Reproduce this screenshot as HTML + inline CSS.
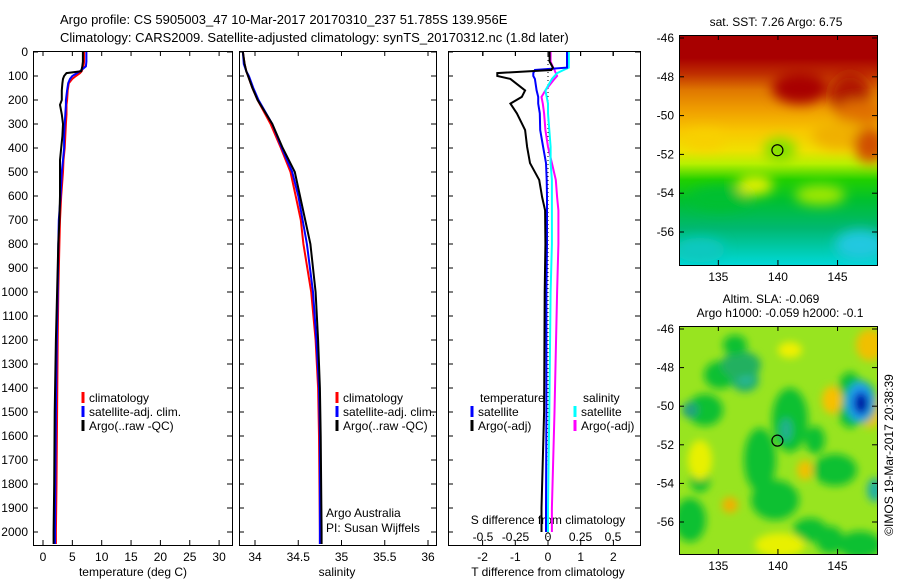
<!DOCTYPE html>
<html><head><meta charset="utf-8"><style>
body{margin:0;background:#fff;}
svg{display:block;font-family:"Liberation Sans",sans-serif;}
</style></head><body>
<svg id="c" width="900" height="580" viewBox="0 0 900 580">
<defs>
<filter id="bl" x="-50%" y="-50%" width="200%" height="200%"><feGaussianBlur stdDeviation="6"/></filter>
<filter id="bl2" x="-50%" y="-50%" width="200%" height="200%"><feGaussianBlur stdDeviation="4"/></filter>
<clipPath id="cm1"><rect x="679" y="35" width="198" height="230"/></clipPath>
<clipPath id="cm2"><rect x="679" y="326" width="198" height="228"/></clipPath>
<linearGradient id="sst" x1="0" y1="0" x2="0" y2="1">
<stop offset="0" stop-color="#a80000"/><stop offset="0.1" stop-color="#a80000"/>
<stop offset="0.17" stop-color="#c03000"/><stop offset="0.24" stop-color="#e07800"/>
<stop offset="0.33" stop-color="#f0a000"/><stop offset="0.42" stop-color="#f8c800"/>
<stop offset="0.5" stop-color="#f0e000"/><stop offset="0.56" stop-color="#b8f000"/>
<stop offset="0.63" stop-color="#20d000"/><stop offset="0.72" stop-color="#00c030"/>
<stop offset="0.84" stop-color="#00b870"/>
<stop offset="1" stop-color="#00d8d8"/></linearGradient>
</defs>
<g id="texts" font-size="13">
<text x="60" y="24">Argo profile: CS 5905003_47 10-Mar-2017 20170310_237 51.785S 139.956E</text>
<text x="60" y="42">Climatology: CARS2009. Satellite-adjusted climatology: synTS_20170312.nc (1.8d later)</text>
</g>
<g id="maps"></g>
<g id="plots"></g>
</svg>
<script>
// ---- data ----
const tDepth=[0,40,60,80,88,100,112,130,160,200,220,260,300,350,400,450,500,600,700,800,1000,1200,1500,1800,2000,2050];
const tArgo=[6.8,6.8,6.7,6.5,4.0,3.6,3.4,3.3,3.2,3.2,2.9,3.2,3.4,3.3,3.1,2.9,2.9,2.9,2.8,2.6,2.4,2.2,2.0,1.9,1.8,1.8];
const tClim=[7.0,7.0,6.9,6.6,6.3,5.6,5.0,4.4,4.2,4.1,4.0,4.0,3.9,3.8,3.7,3.5,3.4,3.1,2.9,2.8,2.6,2.5,2.4,2.3,2.2,2.2];
const tSat=[7.4,7.4,7.3,6.3,5.8,5.0,4.6,4.3,4.1,3.9,3.9,3.8,3.7,3.6,3.6,3.4,3.2,3.0,2.7,2.6,2.5,2.35,2.2,2.1,2.05,2.05];
const sDepth=[0,50,80,100,150,200,300,400,500,600,700,800,1000,1200,1400,1600,2000,2050];
const sArgo=[33.86,33.88,33.9,33.92,33.97,34.03,34.2,34.32,34.46,34.52,34.58,34.64,34.7,34.73,34.75,34.76,34.77,34.77];
const sClim=[33.86,33.88,33.9,33.92,33.97,34.03,34.18,34.3,34.41,34.47,34.53,34.56,34.65,34.7,34.73,34.74,34.75,34.75];
const sSat=[33.86,33.87,33.9,33.93,33.98,34.04,34.2,34.31,34.43,34.5,34.55,34.6,34.67,34.71,34.74,34.75,34.75,34.75];
const dDepth=[0,40,65,75,88,100,112,160,187,215,256,325,395,463,533,604,660,800,1000,1500,1900,2000];
const dTArgo=[0.05,0.05,0.15,0.1,-1.55,-1.55,-1.15,-0.7,-0.8,-1.15,-0.95,-0.7,-0.64,-0.55,-0.27,-0.18,-0.09,-0.08,-0.1,-0.12,-0.2,-0.2];
const dTSat=[0.58,0.58,0.58,-0.4,-0.45,-0.45,-0.4,-0.35,-0.3,-0.3,-0.25,-0.24,-0.15,-0.06,-0.04,-0.03,-0.03,-0.03,-0.05,-0.05,-0.06,-0.06];
const dSSat=[0.16,0.16,0.16,0.12,0.07,0.05,0.03,-0.02,-0.01,0,0,0.01,0.02,0.02,0.03,0.03,0.03,0.03,0.02,0.01,0,0];
const dSArgo=[0.02,0.02,0.04,0.05,0.06,0.07,0.05,-0.02,-0.05,-0.04,-0.03,-0.02,0,0.03,0.06,0.07,0.08,0.08,0.07,0.05,0.03,0.03];
const depthTicks=[0,100,200,300,400,500,600,700,800,900,1000,1100,1200,1300,1400,1500,1600,1700,1800,1900,2000];
const tTicks=[0,5,10,15,20,25,30];
const sTicks=[34,34.5,35,35.5,36];
const sTickLbl=["34","34.5","35","35.5","36"];
const dTTicks=[-2,-1,0,1,2];
const dSTicks=[-0.5,-0.25,0,0.25,0.5];
const dSTickLbl=["-0.5","-0.25","0","0.25","0.5"];
const latTicks=[-46,-48,-50,-52,-54,-56];
const lonTicks=[135,140,145];
const argoLon=139.956, argoLat=-51.785;

const NS='http://www.w3.org/2000/svg';
const plots=document.getElementById('plots');
function mk(tag,at,par){const e=document.createElementNS(NS,tag);for(const k in at)e.setAttribute(k,at[k]);(par||plots).appendChild(e);return e;}
const Y=d=>52+d*0.24;
const P1={x0:33,x1:232}, P2={x0:239,x1:436}, P3={x0:448,x1:640};
const xT=v=>43+v*5.87, xS=v=>255+(v-34)*86.5, xDT=v=>548+v*32.7, xDS=v=>548+v*130;
function frame(P,name){
  const r=mk('rect',{x:P.x0+0.5,y:51.5,width:P.x1-P.x0,height:494,fill:'none',stroke:'#000','stroke-width':1});
  
  
  depthTicks.forEach(d=>{
    mk('line',{x1:P.x0,x2:P.x0+5,y1:Y(d),y2:Y(d),stroke:'#000'});
    mk('line',{x1:P.x1-5,x2:P.x1,y1:Y(d),y2:Y(d),stroke:'#000'});
  });
}
function xticks(P,ticks,fx,labels,name,ly){
  ticks.forEach((t,i)=>{
    const x=fx(t);
    mk('line',{x1:x,x2:x,y1:545,y2:540,stroke:'#000'});
    mk('line',{x1:x,x2:x,y1:51,y2:56,stroke:'#000'});
    const tx=mk('text',{x:x,y:ly||561,'text-anchor':'middle','font-size':12});
    tx.textContent=labels?labels[i]:String(t);
    
    
  });
}
function line(ds,vs,fx,col,w,name){
  let d='';ds.forEach((dd,i)=>{d+=(i?'L':'M')+fx(vs[i]).toFixed(1)+' '+Y(dd).toFixed(1);});
  const p=mk('path',{d:d,fill:'none',stroke:col,'stroke-width':w});
  
  
}
function txt(x,y,s,name,opt){const t=mk('text',Object.assign({x:x,y:y,'font-size':12},opt||{}));t.textContent=s;
  
  return t;}
frame(P1,'temperature-panel');frame(P2,'salinity-panel');frame(P3,'difference-panel');
depthTicks.forEach(d=>{txt(28,Y(d)+4,String(d),'depth-tick-label',{'text-anchor':'end'});});
xticks(P1,tTicks,xT,null,'temperature-tick-label');
xticks(P2,sTicks,xS,sTickLbl,'salinity-tick-label');
xticks(P3,dTTicks,xDT,null,'t-diff-tick-label');
dSTicks.forEach((t,i)=>{const x=xDS(t);mk('line',{x1:x,x2:x,y1:51,y2:56,stroke:'#000'});
  txt(x,541,dSTickLbl[i],'s-diff-tick-label',{'text-anchor':'middle'});});
txt(548,524,'S difference from climatology','s-diff-axis-title',{'text-anchor':'middle'});
txt(133,576,'temperature (deg C)','temperature-axis-title',{'text-anchor':'middle'});
txt(337,576,'salinity','salinity-axis-title',{'text-anchor':'middle'});
txt(548,576,'T difference from climatology','t-diff-axis-title',{'text-anchor':'middle'});
mk('line',{x1:548,x2:548,y1:52,y2:545,stroke:'#000','stroke-dasharray':'1,3'});
line(tDepth,tClim,xT,'#f00',2,'temperature-climatology-line');
line(tDepth,tSat,xT,'#00f',2,'temperature-satellite-line');
line(tDepth,tArgo,xT,'#000',2,'temperature-argo-line');
line(sDepth,sClim,xS,'#f00',2,'salinity-climatology-line');
line(sDepth,sSat,xS,'#00f',2,'salinity-satellite-line');
line(sDepth,sArgo,xS,'#000',2,'salinity-argo-line');
line(dDepth,dSArgo,xDS,'#f0f',2,'s-diff-argo-line');
line(dDepth,dSSat,xDS,'#0ff',2,'s-diff-satellite-line');
line(dDepth,dTSat,xDT,'#00f',2,'t-diff-satellite-line');
line(dDepth,dTArgo,xDT,'#000',2,'t-diff-argo-line');
function leg(x,y,col,s,name){mk('line',{x1:x,x2:x,y1:y-10,y2:y+1,stroke:col,'stroke-width':3});txt(x+6,y,s,name);}
[[83,'temperature'],[337,'salinity']].forEach(([x,n])=>{
  leg(x,402,'#f00','climatology',n+'-legend-climatology');
  leg(x,416,'#00f','satellite-adj. clim.',n+'-legend-satellite');
  leg(x,430,'#000','Argo(..raw -QC)',n+'-legend-argo');
});
txt(480,402,'temperature','diff-legend-temperature-header');
txt(583,402,'salinity','diff-legend-salinity-header');
leg(472,416,'#00f','satellite','diff-legend-t-satellite');
leg(472,430,'#000','Argo(-adj)','diff-legend-t-argo');
leg(575,416,'#0ff','satellite','diff-legend-s-satellite');
leg(575,430,'#f0f','Argo(-adj)','diff-legend-s-argo');
txt(326,517,'Argo Australia','argo-australia-label');
txt(326,532,'PI: Susan Wijffels','pi-label');

// ---- maps ----
const maps=document.getElementById('maps');
function mapAxes(M,name){
  const lx=v=>679+(v-131.7)*11.92;
  const ly=v=>M.yTop+(-46-v)*M.dy+M.off;
  const r=mk('rect',{x:679.5,y:M.yTop+0.5,width:198,height:M.h,fill:'none',stroke:'#000'},maps);
  
  
  latTicks.forEach(t=>{const y=ly(t);mk('line',{x1:679,x2:684,y1:y,y2:y,stroke:'#000'},maps);mk('line',{x1:872,x2:877,y1:y,y2:y,stroke:'#000'},maps);
    const tx=mk('text',{x:674,y:y+4,'text-anchor':'end','font-size':12},maps);tx.textContent=String(t);
    
    });
  lonTicks.forEach(t=>{const x=lx(t);mk('line',{x1:x,x2:x,y1:M.yTop,y2:M.yTop+5,stroke:'#000'},maps);mk('line',{x1:x,x2:x,y1:M.yTop+M.h-5,y2:M.yTop+M.h,stroke:'#000'},maps);
    const tx=mk('text',{x:x,y:M.yTop+M.h+16,'text-anchor':'middle','font-size':12},maps);tx.textContent=String(t);
    
    });
  const c=mk('circle',{cx:lx(argoLon),cy:ly(argoLat),r:5.5,fill:'none',stroke:'#000','stroke-width':1.2},maps);
  
  
  return {lx,ly};
}
const g1=mk('g',{'clip-path':'url(#cm1)'},maps);


mk('rect',{x:679,y:35,width:198,height:230,fill:'url(#sst)'},g1);
const b1=mk('g',{filter:'url(#bl)'},g1);
[[800,88,28,16,'#a80000'],[850,95,20,22,'#b01800'],[860,112,25,12,'#e07000'],[780,150,16,12,'#80e000'],[705,140,20,10,'#f8d000'],
 [840,135,28,15,'#f0b000'],[870,145,16,18,'#d05000'],[720,198,30,12,'#00c030'],[820,195,25,10,'#a0e800'],[755,185,18,10,'#e0f000'],
 [860,245,25,15,'#20c8e0'],[700,250,25,12,'#10c8c0']].forEach(a=>mk('ellipse',{cx:a[0],cy:a[1],rx:a[2],ry:a[3],fill:a[4]},b1));
const g2=mk('g',{'clip-path':'url(#cm2)'},maps);


mk('rect',{x:679,y:326,width:198,height:228,fill:'#98e420'},g2);
const b2=mk('g',{filter:'url(#bl2)'},g2);
[[790,420,18,32,'#10c030'],[760,460,16,32,'#10c030'],[775,500,24,20,'#10c030'],[720,375,16,14,'#10c030'],[705,410,18,16,'#10c030'],
 [690,520,16,22,'#10c030'],[850,400,14,28,'#10c030'],[835,470,22,16,'#10c030'],[860,545,22,14,'#10c030'],[810,530,17,12,'#10c030'],
 [830,540,14,14,'#10c030'],[700,480,10,12,'#10c030'],[815,440,10,14,'#10c030'],
 [745,380,14,12,'#20b070'],[745,375,8,7,'#30c0c0'],[742,375,6,5,'#40d0e0'],[786,430,6,12,'#20b090'],[690,410,8,8,'#20a080'],
 [741,365,20,14,'#20b060'],[735,345,12,10,'#10c030'],
 [832,400,10,14,'#f8c000'],[790,350,12,8,'#f0f000'],[870,345,14,16,'#f0c000'],[730,505,8,8,'#f0b000'],[805,470,8,10,'#f0c000'],
 [780,545,25,12,'#e8f000'],[700,460,12,20,'#e8f000'],[870,410,12,18,'#f0c000'],
 [860,402,17,22,'#10b090'],[860,402,13,19,'#20a0f0'],[861,403,8,12,'#0030c0'],[862,404,4,7,'#000090'],[875,490,8,12,'#20b0a0']
].forEach(a=>mk('ellipse',{cx:a[0],cy:a[1],rx:a[2],ry:a[3],fill:a[4]},b2));
mapAxes({yTop:35,h:230,dy:19.4,off:3},'sst-map-frame');
mapAxes({yTop:326,h:228,dy:19.3,off:3},'sla-map-frame');
function mt(x,y,s,name){const t=mk('text',{x:x,y:y,'text-anchor':'middle','font-size':12},maps);t.textContent=s;
  
  }
mt(776,26,'sat. SST: 7.26 Argo: 6.75','sst-map-title');
mt(771,303,'Altim. SLA: -0.069','sla-map-title');
mt(780,317,'Argo h1000: -0.059 h2000: -0.1','argo-height-label');
const cr=mk('text',{x:0,y:0,'font-size':12,'text-anchor':'middle',transform:'translate(893,455) rotate(-90)'},maps);
cr.textContent='©IMOS 19-Mar-2017 20:38:39';


</script>
</body></html>
